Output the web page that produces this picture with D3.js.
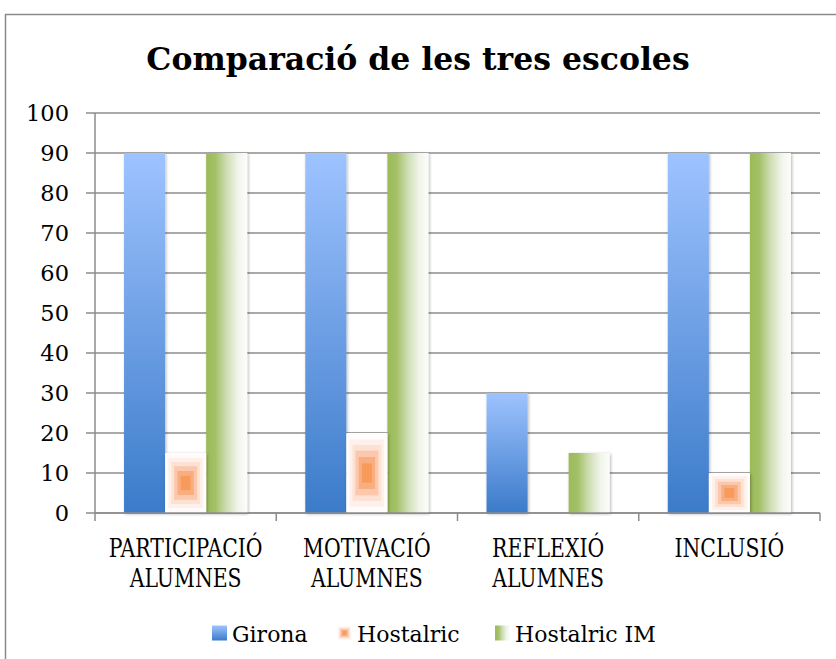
<!DOCTYPE html>
<html>
<head>
<meta charset="utf-8">
<script src="https://cdn.jsdelivr.net/npm/d3@7"></script>
<style>
  html, body { margin: 0; padding: 0; background: #fff; }
  svg { display: block; }
  text { font-family: "DejaVu Serif", serif; fill: #000; }
</style>
</head>
<body>
<div id="chart"></div>
<script>
// Comparació de les tres escoles — grouped bars, three schools x four items.
const title = "Comparació de les tres escoles";
const categories = [
  ["PARTICIPACIÓ", "ALUMNES"],
  ["MOTIVACIÓ", "ALUMNES"],
  ["REFLEXIÓ", "ALUMNES"],
  ["INCLUSIÓ"]
];
const seriesNames = ["Girona", "Hostalric", "Hostalric IM"];
const girona = [90, 90, 30, 90];
const hostalric = [15, 20, 0, 10];
const hostalricIM = [90, 90, 15, 90];
const yTicks = [0, 10, 20, 30, 40, 50, 60, 70, 80, 90, 100];

(function () {
  "use strict";
  const W = 836, H = 659;
  const m = { l: 95, r: 16, t: 113, b: 146 };
  const svg = d3.select("#chart").append("svg").attr("width", W).attr("height", H);
  const defs = svg.append("defs");

  // gradients
  const gBlue = defs.append("linearGradient").attr("id", "gBlue").attr("x1", 0).attr("y1", 0).attr("x2", 0).attr("y2", 1);
  gBlue.append("stop").attr("offset", 0).attr("stop-color", "#9ec3ff");
  gBlue.append("stop").attr("offset", 1).attr("stop-color", "#3b7bc9");
  const gGreen = defs.append("linearGradient").attr("id", "gGreen").attr("x1", 0).attr("y1", 0).attr("x2", 1).attr("y2", 0);
  [[0, "#9bbb59"], [0.22, "#a3c066"], [0.5, "#cfdeb5"], [0.78, "#f1f5ea"], [1, "#fcfdfb"]].forEach(([o, c]) =>
    gGreen.append("stop").attr("offset", o).attr("stop-color", c));
  const sh = defs.append("filter").attr("id", "shadow").attr("x", "-20%").attr("y", "-10%").attr("width", "140%").attr("height", "120%");
  sh.append("feDropShadow").attr("dx", 1).attr("dy", 1).attr("stdDeviation", 1.6)
    .attr("flood-color", "#000").attr("flood-opacity", 0.3);

  // outer frame (runs off the right and bottom edges)
  svg.append("rect").attr("x", 5.5).attr("y", 14.5).attr("width", 900).attr("height", 700)
    .attr("fill", "none").attr("stroke", "#8a8a8a").attr("stroke-width", 1.5);

  svg.append("text").attr("x", 418).attr("y", 69.5).attr("text-anchor", "middle")
    .style("font-size", "31.5px").style("font-weight", "bold").text(title);

  const x0 = d3.scaleBand().domain(d3.range(categories.length)).range([m.l, W - m.r]);
  const x1 = d3.scaleBand().domain(d3.range(3)).range([0, x0.bandwidth()]).paddingOuter(0.707);
  const y = d3.scaleLinear().domain([0, 100]).range([H - m.b, m.t]);

  // gridlines + y ticks
  const grid = svg.append("g");
  grid.selectAll("line").data(yTicks).join("line")
    .attr("x1", m.l - 9).attr("x2", W - m.r).attr("y1", (d) => y(d)).attr("y2", (d) => y(d))
    .attr("stroke", "#8c8c8c").attr("stroke-width", 1.5);
  grid.selectAll("text").data(yTicks).join("text")
    .attr("x", 69).attr("y", (d) => y(d) + 8.3).attr("text-anchor", "end")
    .style("font-size", "22.5px").text((d) => d);
  svg.append("line").attr("x1", m.l).attr("x2", m.l).attr("y1", y(100)).attr("y2", y(0) + 8)
    .attr("stroke", "#8c8c8c").attr("stroke-width", 1.5);
  svg.selectAll(".xtick").data(d3.range(1, categories.length + 1)).join("line").attr("class", "xtick")
    .attr("x1", (i) => m.l + i * x0.bandwidth()).attr("x2", (i) => m.l + i * x0.bandwidth())
    .attr("y1", y(0)).attr("y2", y(0) + 8).attr("stroke", "#8c8c8c").attr("stroke-width", 1.5);

  // bars
  const bw = x1.bandwidth();
  const bars = svg.append("g");
  categories.forEach((c, i) => {
    const gx = x0(i);
    bars.append("rect").attr("x", gx + x1(0)).attr("y", y(girona[i])).attr("width", bw)
      .attr("height", y(0) - y(girona[i])).attr("fill", "url(#gBlue)").attr("filter", "url(#shadow)");
    bars.append("rect").attr("x", gx + x1(2)).attr("y", y(hostalricIM[i])).attr("width", bw)
      .attr("height", y(0) - y(hostalricIM[i])).attr("fill", "url(#gGreen)").attr("filter", "url(#shadow)");
  });

  // Hostalric: rectangular "path" gradient drawn as concentric rects
  const rings = [[1, "#fffcfb"], [0.84, "#fef1eb"], [0.7, "#fde1d3"], [0.56, "#fbc8ad"], [0.4, "#f9ae82"], [0.24, "#f79a5a"]];
  function pathBox(g, bx, by, w, h, shadow) {
    rings.forEach(([f, col], k) => {
      g.append("rect").attr("x", bx + w * (1 - f) / 2).attr("y", by + h * (1 - f) / 2)
        .attr("width", w * f).attr("height", h * f).attr("fill", col)
        .attr("filter", shadow && k === 0 ? "url(#shadow)" : null);
    });
  }
  categories.forEach((c, i) => {
    if (hostalric[i] <= 0) return;
    pathBox(bars, x0(i) + x1(1), y(hostalric[i]), bw, y(0) - y(hostalric[i]), true);
  });

  // x axis line
  svg.append("line").attr("x1", m.l).attr("x2", W - m.r).attr("y1", y(0)).attr("y2", y(0))
    .attr("stroke", "#8c8c8c").attr("stroke-width", 1.5);

  // category labels (narrow caps, like the original face)
  const lab = svg.append("g");
  categories.forEach((lines, i) => {
    const cx = x0(i) + x0.bandwidth() / 2;
    lines.forEach((s, k) => {
      lab.append("text").attr("transform", `translate(${cx},${556.5 + k * 30.5}) scale(0.77,1)`)
        .attr("text-anchor", "middle").style("font-size", "26.5px").text(s);
    });
  });

  // legend
  const legX = [212, 337, 495];
  const leg = svg.append("g");
  seriesNames.forEach((n, k) => {
    const lx = legX[k], ly = 625.5, s = 15;
    if (k === 0) leg.append("rect").attr("x", lx).attr("y", ly).attr("width", s).attr("height", s).attr("fill", "url(#gBlue)");
    if (k === 1) pathBox(leg, lx, ly, s, s, false);
    if (k === 2) leg.append("rect").attr("x", lx).attr("y", ly).attr("width", s).attr("height", s).attr("fill", "url(#gGreen)");
    leg.append("text").attr("x", lx + 20).attr("y", 641.5).style("font-size", "22px").text(n);
  });
})();
</script>
</body>
</html>
